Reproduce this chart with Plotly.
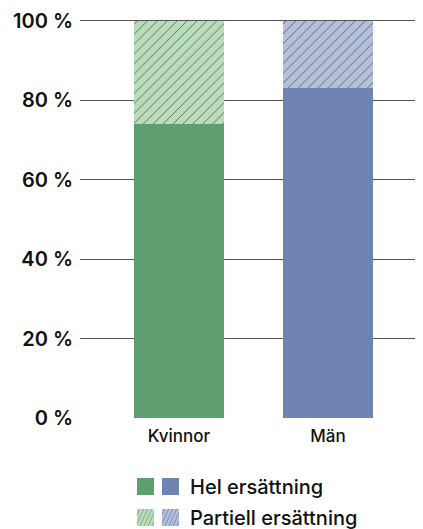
import numpy as np
import plotly.graph_objects as go

categories = ["Kvinnor", "Män"]
hel = [74, 83]
partiell = [26, 17]
y_ticks = [0, 20, 40, 60, 80, 100]
y_tick_labels = ["0 %", "20 %", "40 %", "60 %", "80 %", "100 %"]
legend_labels = ["Hel ersättning", "Partiell ersättning"]

solid_colors = ["#5f9e6e", "#6f84b3"]
light_colors = ["#b9dcba", "#b4bfda"]
hatch_colors = ["#7db585", "#7d8fc3"]

OFF = 8  # page body margin
W, H = 423 - OFF, 529 - OFF
ML, MR, MT, MB = 72, 0, 11, 111
FONT = "Inter"

fig = go.Figure()
fig.add_trace(go.Bar(
    x=categories, y=hel, marker=dict(color=solid_colors, line=dict(width=0)),
    width=0.6, showlegend=False, hoverinfo="skip"))
fig.add_trace(go.Bar(
    x=categories, y=partiell,
    marker=dict(color=light_colors, line=dict(width=0),
                pattern=dict(shape="/", fgcolor=hatch_colors, fgopacity=1,
                             size=7, solidity=0.1, fillmode="overlay")),
    width=0.6, showlegend=False, hoverinfo="skip"))


def px_x(p):
    p = p - OFF
    return (p - ML) / (W - ML - MR)


def px_y(p):
    p = p - OFF
    return (H - MB - p) / (H - MT - MB)


shapes = []
annotations = []
sw = 17
rows_y = [478, 509]
swatch_x = [137, 162]
for r, ry in enumerate(rows_y):
    for c, sx in enumerate(swatch_x):
        fill = solid_colors[c] if r == 0 else light_colors[c]
        shapes.append(dict(type="rect", xref="paper", yref="paper",
                           x0=px_x(sx), x1=px_x(sx + sw), y0=px_y(ry + sw), y1=px_y(ry),
                           fillcolor=fill, line=dict(width=0), layer="above"))
        if r == 1:
            path = ""
            step = 4
            for k in range(-sw, sw + step, step):
                xa, ya = sx + k, ry + sw
                xb, yb = sx + k + sw * 0.45, ry
                pts = []
                for t in np.linspace(0, 1, 200):
                    xx = xa + (xb - xa) * t
                    yy = ya + (yb - ya) * t
                    if sx <= xx <= sx + sw:
                        pts.append((xx, yy))
                if len(pts) >= 2:
                    (ax, ay), (bx, by) = pts[0], pts[-1]
                    path += f"M{px_x(ax)},{px_y(ay)} L{px_x(bx)},{px_y(by)} "
            shapes.append(dict(type="path", xref="paper", yref="paper", path=path,
                               line=dict(color=hatch_colors[c], width=1), layer="above"))
    annotations.append(dict(text=legend_labels[r], xref="paper", yref="paper",
                            x=px_x(188), y=px_y(ry + sw / 2), xanchor="left", yanchor="middle",
                            showarrow=False,
                            font=dict(family=FONT, size=20, color="#111", weight=500)))

fig.update_layout(
    width=W, height=H,
    margin=dict(l=ML, r=MR, t=MT, b=MB),
    barmode="stack",
    plot_bgcolor="white", paper_bgcolor="white",
    font=dict(family=FONT, color="#111"),
    shapes=shapes, annotations=annotations,
    xaxis=dict(range=[-0.664, 1.638], showgrid=False, zeroline=False, showline=False,
               ticks="", ticklabelstandoff=6,
               tickfont=dict(family=FONT, size=17, color="#111", weight=500)),
    yaxis=dict(range=[0, 100.5], tickvals=y_ticks, ticktext=y_tick_labels,
               showgrid=True, gridcolor="#555", gridwidth=1, zeroline=False,
               showline=False, ticks="", ticklabelstandoff=6,
               tickfont=dict(family=FONT, size=20, color="#111", weight=600)),
    showlegend=False,
)
fig.write_html("out.html")
